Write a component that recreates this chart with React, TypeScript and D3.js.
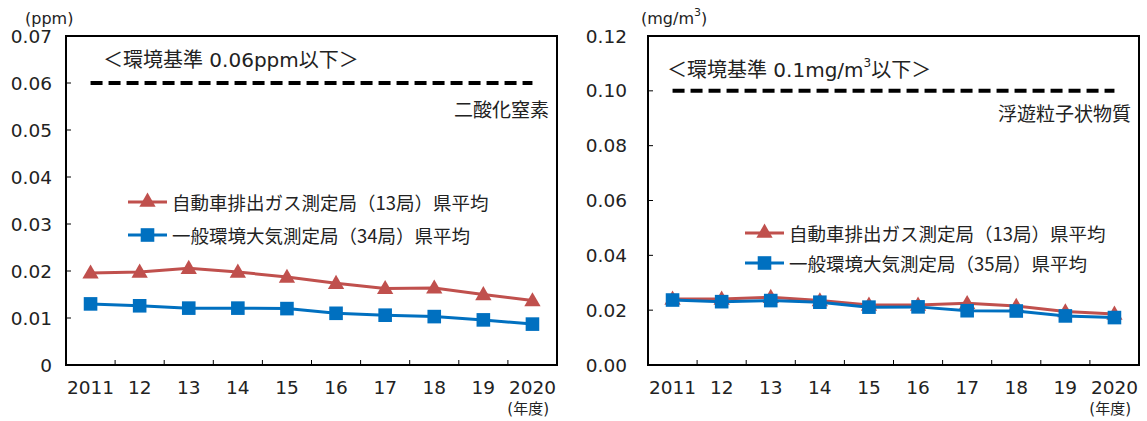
import React from 'react';
import * as d3 from 'd3';

const years = ['2011', '12', '13', '14', '15', '16', '17', '18', '19', '2020'];
const no2Roadside = [0.0196, 0.0198, 0.0206, 0.0198, 0.0187, 0.0174, 0.0163, 0.0164, 0.015, 0.0137];
const no2General = [0.013, 0.0126, 0.0121, 0.0121, 0.012, 0.011, 0.0106, 0.0103, 0.0096, 0.0087];
const spmRoadside = [0.0241, 0.0241, 0.0247, 0.0235, 0.0219, 0.0219, 0.0225, 0.0215, 0.0195, 0.0186];
const spmGeneral = [0.0237, 0.0231, 0.0235, 0.0229, 0.0211, 0.0212, 0.0198, 0.0197, 0.0179, 0.0173];
const no2Ticks = [0, 0.01, 0.02, 0.03, 0.04, 0.05, 0.06, 0.07];
const spmTicks = [0, 0.02, 0.04, 0.06, 0.08, 0.1, 0.12];

const RED = '#C0504D';
const BLUE = '#0070C0';
const FONT = '"DejaVu Sans", "Noto Sans CJK JP", sans-serif';
const CJK = '"Noto Sans CJK JP", "Noto Sans", sans-serif';

type PanelProps = {
  x0: number; x1: number; y0: number; y1: number;
  yMax: number; ticks: number[]; fmt: (v: number) => string;
  labelX: number; unit: React.ReactNode; unitX: number; unitY: number;
  std: number; stdLabel: React.ReactNode; stdLabelX: number; stdLabelY: number;
  name: string; nameY: number;
  red: number[]; blue: number[];
  redLabel: string; blueLabel: string;
  legX: number; legY1: number; legY2: number;
};

function Panel(p: PanelProps) {
  const x = d3.scaleBand<string>().domain(years).range([p.x0, p.x1]);
  const y = d3.scaleLinear().domain([0, p.yMax]).range([p.y1, p.y0]);
  const cx = (d: string) => (x(d) as number) + x.bandwidth() / 2;
  const line = d3.line<number>().x((_, i) => cx(years[i])).y((v) => y(v));
  const tri = d3.symbol().type(d3.symbolTriangle).size(115)() as string;
  const sq = d3.symbol().type(d3.symbolSquare).size(185)() as string;
  const bounds = years.slice(1).map((d) => x(d) as number);
  return (
    <g fontFamily={FONT} fill="#222">
      <rect x={p.x0} y={p.y0} width={p.x1 - p.x0} height={p.y1 - p.y0} fill="none" stroke="#000" strokeWidth={2} />
      {p.ticks.map((t) => (
        <g key={t}>
          {t > 0 && t < p.yMax && <line x1={p.x0} x2={p.x0 + 5} y1={y(t)} y2={y(t)} stroke="#000" strokeWidth={1} />}
          <text x={p.labelX} y={y(t)} textAnchor="end" dominantBaseline="central" fontSize={18.5}>{p.fmt(t)}</text>
        </g>
      ))}
      {bounds.map((b) => (
        <line key={b} x1={b} x2={b} y1={p.y1} y2={p.y1 - 5} stroke="#000" strokeWidth={1} />
      ))}
      {years.map((d) => (
        <text key={d} x={cx(d)} y={p.y1 + 22} textAnchor="middle" dominantBaseline="central" fontSize={18.5}>{d}</text>
      ))}
      <text x={p.x1 - 8} y={p.y1 + 44} textAnchor="end" dominantBaseline="central" fontSize={15}>(年度)</text>
      <text x={p.unitX} y={p.unitY} dominantBaseline="central" fontSize={16}>{p.unit}</text>
      <line x1={cx(years[0])} x2={cx(years[years.length - 1])} y1={y(p.std)} y2={y(p.std)} stroke="#000" strokeWidth={4} strokeDasharray="12 6" />
      <text x={p.stdLabelX} y={p.stdLabelY} dominantBaseline="central" fontSize={20}>{p.stdLabel}</text>
      <text x={p.x1 - 8} y={p.nameY} textAnchor="end" dominantBaseline="central" fontSize={19} fontFamily={CJK}>{p.name}</text>

      <path d={line(p.red) as string} fill="none" stroke={RED} strokeWidth={3} />
      {p.red.map((v, i) => (
        <path key={i} d={tri} transform={`translate(${cx(years[i])},${y(v) + 1})`} fill={RED} />
      ))}
      <path d={line(p.blue) as string} fill="none" stroke={BLUE} strokeWidth={3} />
      {p.blue.map((v, i) => (
        <path key={i} d={sq} transform={`translate(${cx(years[i])},${y(v)})`} fill={BLUE} />
      ))}

      <line x1={p.legX} x2={p.legX + 39} y1={p.legY1} y2={p.legY1} stroke={RED} strokeWidth={3} />
      <path d={tri} transform={`translate(${p.legX + 19.5},${p.legY1})`} fill={RED} />
      <text x={p.legX + 44} y={p.legY1} dominantBaseline="central" fontSize={18.5} fontFamily={CJK}>{p.redLabel}</text>
      <line x1={p.legX} x2={p.legX + 39} y1={p.legY2} y2={p.legY2} stroke={BLUE} strokeWidth={3} />
      <path d={sq} transform={`translate(${p.legX + 19.5},${p.legY2})`} fill={BLUE} />
      <text x={p.legX + 44} y={p.legY2} dominantBaseline="central" fontSize={18.5} fontFamily={CJK}>{p.blueLabel}</text>
    </g>
  );
}

export default function App() {
  return (
    <svg width={1147} height={421} style={{ position: 'absolute', left: 0, top: 0, background: '#fff' }}>
      <rect width={1147} height={421} fill="#fff" />
      <Panel
        x0={66} x1={557} y0={36} y1={365}
        yMax={0.07} ticks={no2Ticks} fmt={(v) => (v === 0 ? '0' : v.toFixed(2))}
        labelX={52} unit="(ppm)" unitX={25} unitY={18}
        std={0.06} stdLabel="＜環境基準 0.06ppm以下＞" stdLabelX={103} stdLabelY={60}
        name="二酸化窒素" nameY={108}
        red={no2Roadside} blue={no2General}
        redLabel="自動車排出ガス測定局（13局）県平均" blueLabel="一般環境大気測定局（34局）県平均"
        legX={128} legY1={202} legY2={235}
      />
      <Panel
        x0={648} x1={1139} y0={36} y1={365}
        yMax={0.12} ticks={spmTicks} fmt={(v) => v.toFixed(2)}
        labelX={627} unit={<>(mg/m<tspan fontSize={11} dy={-6}>3</tspan><tspan dy={6}>)</tspan></>} unitX={641} unitY={18}
        std={0.1} stdLabel={<>＜環境基準 0.1mg/m<tspan fontSize={12} dy={-7}>3</tspan><tspan dy={7}>以下＞</tspan></>} stdLabelX={667} stdLabelY={70}
        name="浮遊粒子状物質" nameY={112}
        red={spmRoadside} blue={spmGeneral}
        redLabel="自動車排出ガス測定局（13局）県平均" blueLabel="一般環境大気測定局（35局）県平均"
        legX={745} legY1={233} legY2={263}
      />
    </svg>
  );
}
